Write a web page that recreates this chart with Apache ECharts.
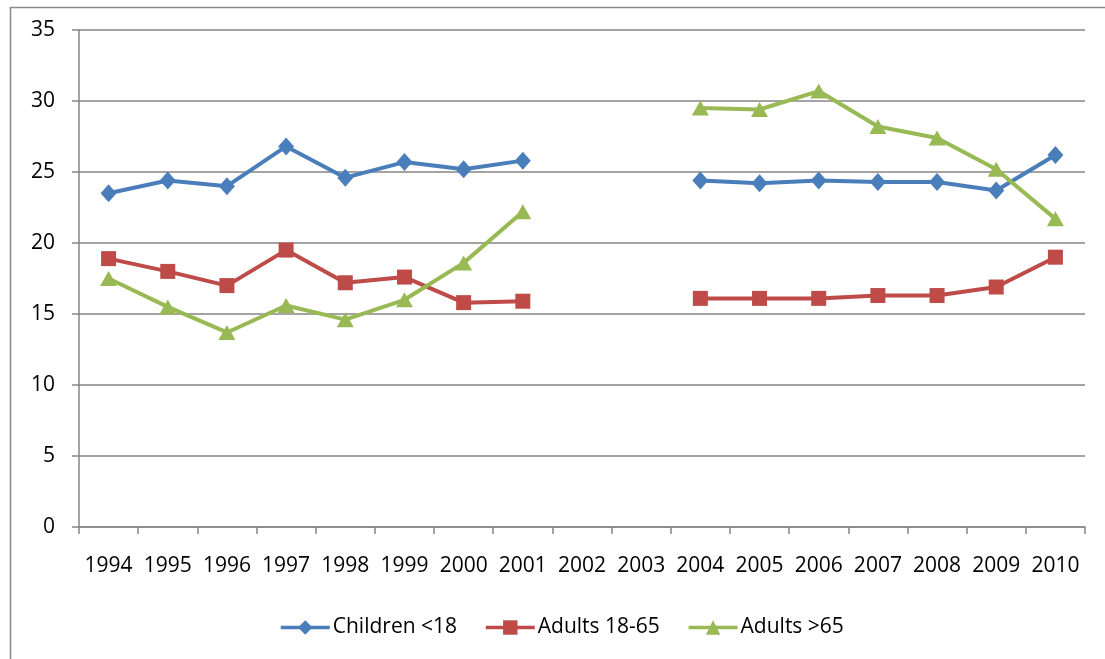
<!DOCTYPE html>
<html>
<head>
<meta charset="utf-8">
<script src="https://cdn.jsdelivr.net/npm/echarts@6/dist/echarts.min.js"></script>
<style>
html,body{margin:0;padding:0;background:#fff;}
#chart{width:1105px;height:659px;}
</style>
</head>
<body>
<div id="chart"></div>
<script>
const years = ['1994','1995','1996','1997','1998','1999','2000','2001','2002','2003','2004','2005','2006','2007','2008','2009','2010'];
const children = [23.5, 24.4, 24.0, 26.8, 24.6, 25.7, 25.2, 25.8, null, null, 24.4, 24.2, 24.4, 24.3, 24.3, 23.7, 26.2];
const adults1865 = [18.9, 18.0, 17.0, 19.5, 17.2, 17.6, 15.8, 15.9, null, null, 16.1, 16.1, 16.1, 16.3, 16.3, 16.9, 19.0];
const adults65 = [17.5, 15.5, 13.7, 15.6, 14.6, 16.0, 18.6, 22.2, null, null, 29.5, 29.4, 30.7, 28.2, 27.4, 25.2, 21.7];
const yTicks = [0, 5, 10, 15, 20, 25, 30, 35];

const chart = echarts.init(document.getElementById('chart'));
const font = 'Open Sans';
chart.setOption({
  animation: false,
  backgroundColor: '#fff',
  graphic: [{
    type: 'rect', left: 8, top: 5, shape: {width: 1300, height: 900},
    style: {fill: 'none', stroke: '#8a8a8a', lineWidth: 1.5}, silent: true, z: -1
  }],
  grid: {left: 79, right: 20, top: 30, bottom: 132, containLabel: false},
  legend: {
    bottom: 16, left: 274,
    itemWidth: 49, itemHeight: 18, itemGap: 27,
    lineStyle: {width: 3.5},
    textStyle: {fontFamily: font, fontSize: 21, color: '#000', padding: [0, 0, 0, -2]},
    data: ['Children <18', 'Adults 18-65', 'Adults >65']
  },
  xAxis: {
    type: 'category', data: years, boundaryGap: true,
    axisLine: {lineStyle: {color: '#868686', width: 1.5}},
    axisTick: {show: true, length: 7, lineStyle: {color: '#868686', width: 1.5}},
    axisLabel: {fontFamily: font, fontSize: 21, color: '#000', margin: 29, interval: 0}
  },
  yAxis: {
    type: 'value', min: yTicks[0], max: yTicks[yTicks.length - 1], interval: 5,
    axisLine: {show: true, lineStyle: {color: '#868686', width: 1.5}},
    axisTick: {show: true, length: 7, lineStyle: {color: '#868686', width: 1.5}},
    splitLine: {lineStyle: {color: '#868686', width: 1.5}},
    axisLabel: {fontFamily: font, fontSize: 21, color: '#000', margin: 24}
  },
  series: [
    {name: 'Children <18', type: 'line', data: children, symbol: 'diamond', symbolSize: [16, 18],
     lineStyle: {color: '#4a7ebb', width: 4}, itemStyle: {color: '#4a7ebb'}, connectNulls: false},
    {name: 'Adults 18-65', type: 'line', data: adults1865, symbol: 'rect', symbolSize: 15,
     lineStyle: {color: '#be4b48', width: 4}, itemStyle: {color: '#be4b48'}, connectNulls: false},
    {name: 'Adults >65', type: 'line', data: adults65, symbol: 'triangle', symbolSize: [17, 15],
     lineStyle: {color: '#98b954', width: 4}, itemStyle: {color: '#98b954'}, connectNulls: false}
  ]
});
</script>
</body>
</html>
